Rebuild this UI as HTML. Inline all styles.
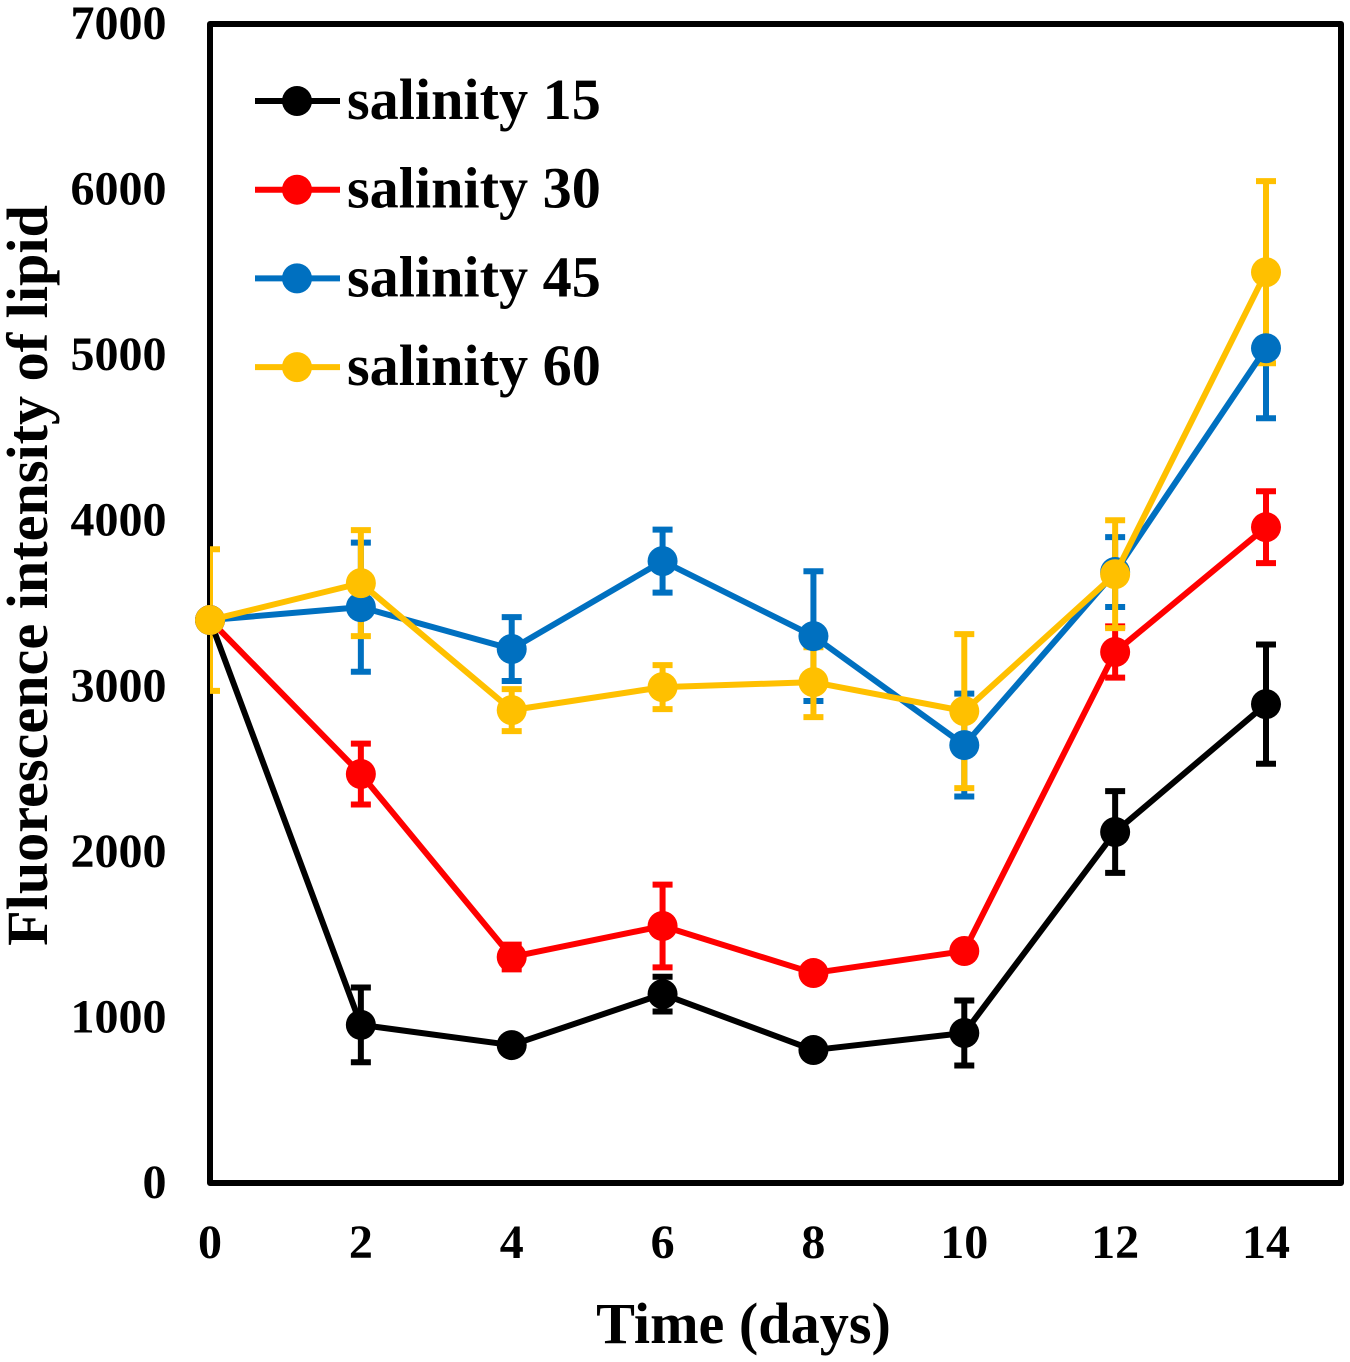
<!DOCTYPE html>
<html lang="en">
<head>
<meta charset="utf-8">
<title>Fluorescence intensity of lipid</title>
<style>
html,body{margin:0;padding:0;background:#fff}
svg{display:block}
text{font-family:"Liberation Serif",serif;font-weight:bold;fill:#000}
</style>
</head>
<body>
<svg id="chart" xmlns="http://www.w3.org/2000/svg" width="1350" height="1362" viewBox="0 0 1350 1362">
<defs><clipPath id="plot-clip"><rect x="210" y="0" width="1140" height="1362"/></clipPath></defs>
<text transform="translate(47,575.5) rotate(-90)" text-anchor="middle" font-size="58.2">Fluorescence intensity of lipid</text>
<text x="743.5" y="1343" text-anchor="middle" font-size="58.2">Time (days)</text>
</svg>
<script>
const days = [0, 2, 4, 6, 8, 10, 12, 14];
const yTicks = [0, 1000, 2000, 3000, 4000, 5000, 6000, 7000];
const seriesNames = ['salinity 15', 'salinity 30', 'salinity 45', 'salinity 60'];
const salinity15 = [3400, 955, 833, 1141, 803, 906, 2120, 2892];
const salinity30 = [3400, 2470, 1365, 1552, 1268, 1401, 3207, 3961];
const salinity45 = [3400, 3478, 3225, 3756, 3303, 2645, 3690, 5042];
const salinity60 = [3400, 3623, 2856, 2995, 3025, 2850, 3677, 5501];
const error15 = [0, 226, 40, 105, 30, 196, 247, 360];
const error30 = [0, 184, 75, 250, 30, 30, 155, 217];
const error45 = [0, 390, 193, 190, 392, 311, 211, 423];
const error60 = [428, 320, 127, 133, 211, 465, 326, 550];

const NS = 'http://www.w3.org/2000/svg';
const svg = document.getElementById('chart');
const colors = ['#000000', '#FF0000', '#0070C0', '#FFC000'];
const allValues = [salinity15, salinity30, salinity45, salinity60];
const allErrors = [error15, error30, error45, error60];
const xScale = d => 210 + d * (1056 / 14);
const yScale = v => 1183 - v * (1159 / 7000);

function make(tag, attrs, parent) {
  const el = document.createElementNS(NS, tag);
  for (const k in attrs) el.setAttribute(k, attrs[k]);
  (parent || svg).appendChild(el);
  return el;
}

const frame = make('rect', {x: 210, y: 24, width: 1131, height: 1159, fill: 'none', stroke: '#000', 'stroke-width': 6, 'stroke-linejoin': 'round'});



yTicks.forEach(t => {
  const label = make('text', {x: 166.5, y: yScale(t) + 15, 'text-anchor': 'end', 'font-size': 48});
  
  
  label.textContent = t;
});
days.forEach(d => {
  const label = make('text', {x: xScale(d), y: 1258, 'text-anchor': 'middle', 'font-size': 48});
  
  
  label.textContent = d;
});

const errorLayer = make('g', {'clip-path': 'url(#plot-clip)', fill: 'none', 'stroke-width': 6});


allValues.forEach((vals, s) => {
  vals.forEach((v, i) => {
    const err = allErrors[s][i];
    if (!err) return;
    const x = xScale(days[i]), top = yScale(v + err), bot = yScale(v - err);
    const bar = make('path', {d: `M${x} ${top}V${bot}M${x - 10} ${top}H${x + 10}M${x - 10} ${bot}H${x + 10}`, stroke: colors[s]}, errorLayer);
    
    
  });
});

allValues.forEach((vals, s) => {
  const group = make('g', {});
  
  
  const pts = vals.map((v, i) => xScale(days[i]) + ',' + yScale(v)).join(' ');
  make('polyline', {points: pts, fill: 'none', stroke: colors[s], 'stroke-width': 6, 'stroke-linejoin': 'round'}, group);
  vals.forEach((v, i) => {
    const point = make('circle', {cx: xScale(days[i]), cy: yScale(v), r: 15, fill: colors[s]}, group);
    
    
  });
});

seriesNames.forEach((name, s) => {
  const ly = 101 + s * 88.7;
  const entry = make('g', {});
  
  
  make('line', {x1: 255, x2: 340, y1: ly, y2: ly, stroke: colors[s], 'stroke-width': 6}, entry);
  make('circle', {cx: 297, cy: ly, r: 15, fill: colors[s]}, entry);
  const t = make('text', {x: 347, y: ly + 18, 'font-size': 58.2}, entry);
  t.textContent = name;
});
</script>
</body>
</html>
